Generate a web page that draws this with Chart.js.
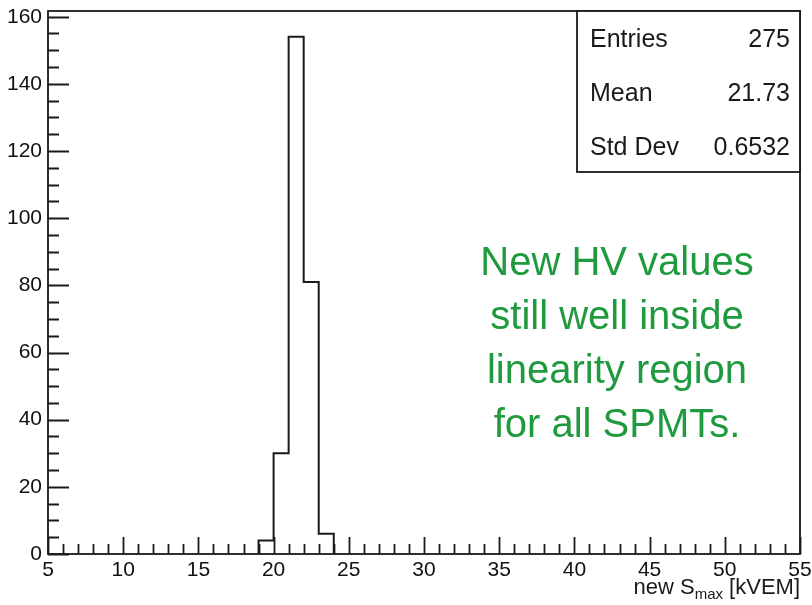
<!DOCTYPE html>
<html>
<head>
<meta charset="utf-8">
<script src="https://cdn.jsdelivr.net/npm/chart.js@4/dist/chart.umd.min.js"></script>
<style>
  html, body { margin: 0; padding: 0; background: #fff; }
  #wrap { width: 812px; height: 605px; }
</style>
</head>
<body>
<div id="wrap"><canvas id="hist" width="812" height="605"></canvas></div>
<script>
// histogram bins (lower edge, width 1 kVEM) and counts
const binLow = [19, 20, 21, 22, 23];
const binWidth = 1;
const counts = [4, 30, 154, 81, 6];

// axis range and tick spacing
const xRange = [5, 55];
const yRange = [0, 161.7];
const xMajor = 5, xMinor = 1;
const yMajor = 20, yMinor = 5;

// stats box
const statNames = ['Entries', 'Mean', 'Std Dev'];
const statValues = ['275', '21.73', '0.6532'];

const noteLines = ['New HV values', 'still well inside', 'linearity region', 'for all SPMTs.'];

const FONT = '"Liberation Sans", Arial, Helvetica, sans-serif';
const INK = '#1a1a1a';

// outline of the histogram as a stepped line
function outline() {
  const pts = [{ x: binLow[0], y: 0 }];
  binLow.forEach((lo, i) => pts.push({ x: lo, y: counts[i] }));
  const last = binLow[binLow.length - 1] + binWidth;
  pts.push({ x: last, y: counts[counts.length - 1] });
  pts.push({ x: last, y: 0 });
  return pts;
}

const decor = {
  id: 'decor',
  afterDatasetsDraw(chart) {
    const ctx = chart.ctx;
    const a = chart.chartArea;
    const xs = chart.scales.x, ys = chart.scales.y;
    ctx.save();
    ctx.strokeStyle = INK;
    ctx.lineWidth = 1.8;

    // frame
    ctx.strokeRect(a.left, a.top, a.right - a.left, a.bottom - a.top);

    // ticks drawn inward
    ctx.beginPath();
    for (let v = xRange[0]; v <= xRange[1] + 1e-9; v += xMinor) {
      const px = Math.round(xs.getPixelForValue(v)) + 0.5;
      const len = (Math.round(v) % xMajor === 0) ? 17 : 10;
      ctx.moveTo(px, a.bottom);
      ctx.lineTo(px, a.bottom - len);
    }
    for (let v = 0; v <= yRange[1]; v += yMinor) {
      const py = Math.round(ys.getPixelForValue(v)) + 0.5;
      const len = (v % yMajor === 0) ? 21 : 11;
      ctx.moveTo(a.left, py);
      ctx.lineTo(a.left + len, py);
    }
    ctx.stroke();

    // tick labels
    ctx.fillStyle = '#111';
    ctx.font = '21px ' + FONT;
    ctx.textBaseline = 'middle';
    ctx.textAlign = 'center';
    xs.ticks.forEach(t => ctx.fillText(String(t.value), xs.getPixelForValue(t.value), 570));
    ctx.textAlign = 'right';
    ys.ticks.forEach(t => ctx.fillText(String(t.value), a.left - 6, ys.getPixelForValue(t.value)));

    // stats box
    const bx = 577, by = a.top, bw = a.right - 577, bh = 161;
    ctx.fillStyle = '#fff';
    ctx.fillRect(bx, by, bw, bh);
    ctx.strokeRect(bx, by, bw, bh);
    ctx.fillStyle = INK;
    ctx.font = '25px ' + FONT;
    ctx.textBaseline = 'alphabetic';
    statNames.forEach((name, i) => {
      const base = 47 + i * 54;
      ctx.textAlign = 'left';
      ctx.fillText(name, 590, base);
      ctx.textAlign = 'right';
      ctx.fillText(statValues[i], 790, base);
    });

    // note
    ctx.fillStyle = '#1f9a3e';
    ctx.font = '40px ' + FONT;
    ctx.textAlign = 'center';
    noteLines.forEach((line, i) => ctx.fillText(line, 617, 275 + i * 54));

    // axis title with subscript, right aligned at the axis end
    ctx.fillStyle = INK;
    const big = '22px ' + FONT, small = '15px ' + FONT;
    ctx.font = big;
    const w1 = ctx.measureText('new S').width;
    const w3 = ctx.measureText(' [kVEM]').width;
    ctx.font = small;
    const w2 = ctx.measureText('max').width;
    let x = a.right - (w1 + w2 + w3);
    const base = 594;
    ctx.textAlign = 'left';
    ctx.font = big;
    ctx.fillText('new S', x, base);
    x += w1;
    ctx.font = small;
    ctx.fillText('max', x, base + 5);
    x += w2;
    ctx.font = big;
    ctx.fillText(' [kVEM]', x, base);

    ctx.restore();
  }
};

new Chart(document.getElementById('hist'), {
  type: 'line',
  data: {
    datasets: [{
      data: outline(),
      stepped: 'before',
      borderColor: INK,
      borderWidth: 2,
      pointRadius: 0,
      fill: false
    }]
  },
  options: {
    responsive: false,
    animation: false,
    layout: { padding: { top: 11, right: 12, left: 0, bottom: 0 } },
    plugins: { legend: { display: false }, tooltip: { enabled: false } },
    scales: {
      x: {
        type: 'linear',
        min: xRange[0],
        max: xRange[1],
        grid: { display: false },
        border: { display: false },
        afterFit: s => { s.height = 51; },
        ticks: { display: false, stepSize: xMajor, includeBounds: false }
      },
      y: {
        min: yRange[0],
        max: yRange[1],
        grid: { display: false },
        border: { display: false },
        afterFit: s => { s.width = 48; },
        ticks: { display: false, stepSize: yMajor, includeBounds: false }
      }
    }
  },
  plugins: [decor]
});
</script>
</body>
</html>
